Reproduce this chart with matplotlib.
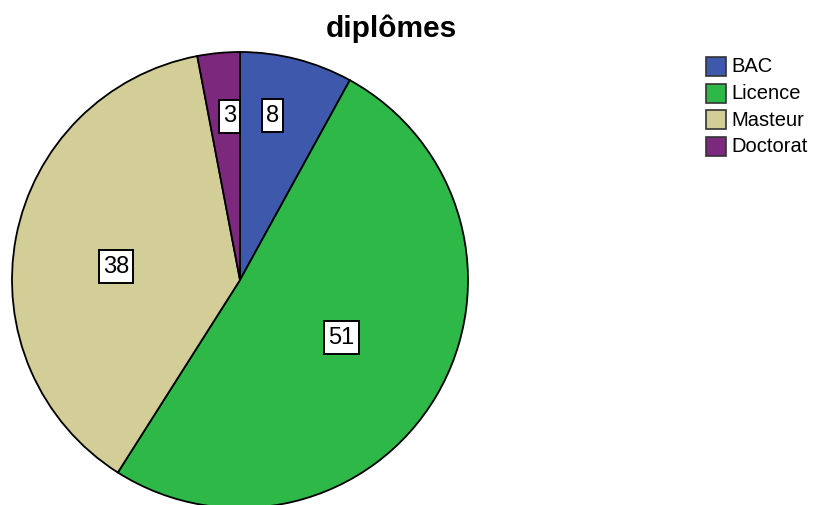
import numpy as np
import matplotlib
matplotlib.use("Agg")
import matplotlib.pyplot as plt
from matplotlib.patches import Rectangle

categories = ["BAC", "Licence", "Masteur", "Doctorat"]
counts = [8, 51, 38, 3]
colors = ["#3E58AC", "#2EB848", "#D3CE97", "#7C287D"]
title = "diplômes"

# label placement: fraction of radius and small angular nudge (degrees)
label_radius = [0.735, 0.513, 0.547, 0.72]
label_nudge = [3.2, 0.9, 4.6, -1.7]

plt.rcParams["font.family"] = ["Liberation Sans", "DejaVu Sans"]

W, H = 816, 505
fig = plt.figure(figsize=(W / 100, H / 100), dpi=100)

cx, cy, R = 240, 280, 228
ax = fig.add_axes([(cx - R) / W, (H - cy - R) / H, 2 * R / W, 2 * R / H])
wedges, _ = ax.pie(counts, colors=colors, startangle=90, counterclock=False,
                   radius=1.0,
                   wedgeprops=dict(edgecolor="black", linewidth=1.3))
ax.set_xlim(-1, 1)
ax.set_ylim(-1, 1)
ax.axis("off")
for w in wedges:
    w.set_clip_on(False)

texts = []
for w, n, r, d in zip(wedges, counts, label_radius, label_nudge):
    ang = np.deg2rad((w.theta1 + w.theta2) / 2 + d)
    t = ax.text(r * np.cos(ang), r * np.sin(ang), str(n), ha="center", va="center",
                fontsize=17, color="black", zorder=5)
    texts.append(t)

# white label boxes sized around the rendered text (px padding)
fig.canvas.draw()
renderer = fig.canvas.get_renderer()
inv = ax.transData.inverted()
for t in texts:
    bb = t.get_window_extent(renderer)
    xc, yc = (bb.x0 + bb.x1) / 2, (bb.y0 + bb.y1) / 2
    half_w = bb.width / 2 + 4
    half_h = 16.5
    (x0, y0) = inv.transform((xc - half_w, yc - half_h))
    (x1, y1) = inv.transform((xc + half_w, yc + half_h))
    ax.add_patch(Rectangle((x0, y0), x1 - x0, y1 - y0, facecolor="white",
                           edgecolor="black", linewidth=1.4, zorder=4))

fig.text(391 / W, 1 - 29 / H, title, ha="center", va="center",
         fontsize=21.5, fontweight="bold")

# legend: colour swatches with category names
lg = fig.add_axes([0, 0, 1, 1], facecolor="none")
lg.set_xlim(0, W)
lg.set_ylim(H, 0)
lg.axis("off")
row0, step = 66.5, 26.5
for i, (c, name) in enumerate(zip(colors, categories)):
    yc = row0 + i * step
    lg.add_patch(Rectangle((705.5, yc - 9.5), 20, 19, facecolor=c,
                           edgecolor="#333333", linewidth=1.2))
    lg.text(731, yc + 0.5, name, ha="left", va="center", fontsize=14.5)

fig.savefig("out.png", dpi=100)
